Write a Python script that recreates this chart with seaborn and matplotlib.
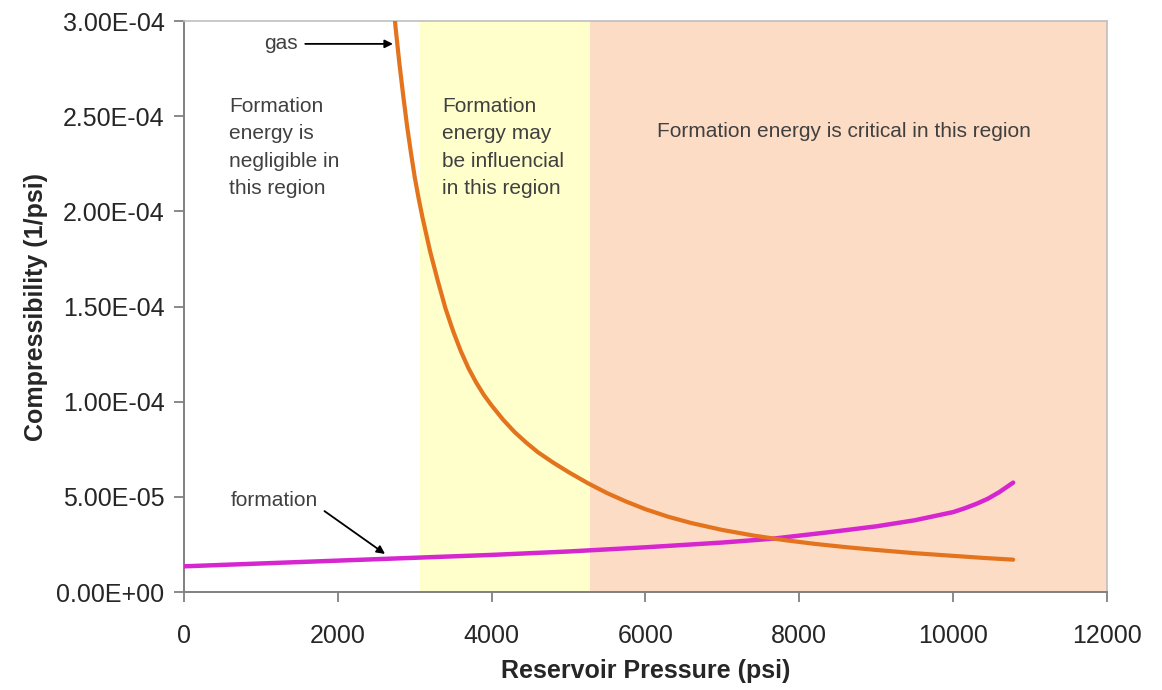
import matplotlib
matplotlib.use("Agg")
import matplotlib.pyplot as plt
import seaborn as sns

# gas compressibility (1/psi) vs reservoir pressure (psi)
gas_p = [2700, 2750, 2800, 2850, 2900, 2950, 3000, 3050, 3100, 3150, 3200, 3300,
         3400, 3500, 3600, 3700, 3800, 3900, 4000, 4150, 4300, 4450, 4600, 4800,
         5000, 5250, 5500, 5750, 6000, 6300, 6600, 7000, 7400, 7800, 8200, 8600,
         9000, 9500, 10000, 10400, 10780]
gas_c = [3.20e-4, 2.97e-4, 2.78e-4, 2.61e-4, 2.45e-4, 2.31e-4, 2.18e-4, 2.07e-4,
         1.97e-4, 1.88e-4, 1.79e-4, 1.635e-4, 1.49e-4, 1.37e-4, 1.265e-4, 1.175e-4,
         1.10e-4, 1.035e-4, 0.98e-4, 0.905e-4, 0.84e-4, 0.785e-4, 0.735e-4, 0.68e-4,
         0.63e-4, 0.572e-4, 0.52e-4, 0.475e-4, 0.435e-4, 0.395e-4, 0.362e-4, 0.326e-4,
         0.297e-4, 0.273e-4, 0.253e-4, 0.236e-4, 0.221e-4, 0.204e-4, 0.19e-4,
         0.179e-4, 0.17e-4]

# formation compressibility
form_p = [0, 1000, 2000, 3000, 4000, 5000, 6000, 7000, 7650, 8400, 9000, 9500,
          10000, 10150, 10300, 10450, 10600, 10780]
form_c = [0.135e-4, 0.15e-4, 0.165e-4, 0.18e-4, 0.195e-4, 0.213e-4, 0.235e-4,
          0.26e-4, 0.28e-4, 0.315e-4, 0.345e-4, 0.377e-4, 0.42e-4, 0.44e-4,
          0.463e-4, 0.49e-4, 0.525e-4, 0.575e-4]

# region limits (psi)
region_edges = [3070, 5280, 12000]
region_colors = ['#FFFFCC', '#FDDCC5']

y_ticks = [0, 0.5e-4, 1.0e-4, 1.5e-4, 2.0e-4, 2.5e-4, 3.0e-4]
y_labels = ['0.00E+00', '5.00E-05', '1.00E-04', '1.50E-04', '2.00E-04', '2.50E-04', '3.00E-04']
x_ticks = [0, 2000, 4000, 6000, 8000, 10000, 12000]

sns.set_theme(style='white')
plt.rcParams['font.family'] = ['Liberation Sans', 'DejaVu Sans']

fig = plt.figure(figsize=(11.62, 6.90), dpi=100)
ax = fig.add_axes([0.1583, 0.142, 0.7944, 0.8275])

ax.axvspan(region_edges[0], region_edges[1], color=region_colors[0], lw=0, zorder=0)
ax.axvspan(region_edges[1], region_edges[2], color=region_colors[1], lw=0, zorder=0)

sns.lineplot(x=form_p, y=form_c, ax=ax, color='#D626CF', lw=3.2, sort=False, zorder=3)
sns.lineplot(x=gas_p, y=gas_c, ax=ax, color='#E4731E', lw=3.0, sort=False, zorder=4)

ax.set_xlim(0, 12000)
ax.set_ylim(0, 3.0e-4)
ax.set_yticks(y_ticks)
ax.set_yticklabels(y_labels)
ax.set_xticks(x_ticks)
ax.set_xticklabels([str(t) for t in x_ticks])

ax.tick_params(axis='y', direction='out', length=7, width=1.3, color='#808080',
               labelsize=18, pad=7, left=True)
ax.tick_params(axis='x', direction='out', length=7, width=1.3, color='#808080',
               labelsize=18, pad=16, bottom=True)
for s in ['left', 'bottom']:
    ax.spines[s].set_color('#808080')
    ax.spines[s].set_linewidth(1.4)
for s in ['top', 'right']:
    ax.spines[s].set_color('#BFBFBF')
    ax.spines[s].set_linewidth(1.2)

ax.set_xlabel('Reservoir Pressure (psi)', fontsize=18, fontweight='bold', labelpad=8)
ax.set_ylabel('Compressibility (1/psi)', fontsize=18, fontweight='bold', labelpad=6)

txt = dict(fontsize=15, color='#404040', va='top', ha='left', linespacing=1.55)
ax.text(585, 2.60e-4, 'Formation\nenergy is\nnegligible in\nthis region', **txt)
ax.text(3355, 2.60e-4, 'Formation\nenergy may\nbe influencial\nin this region', **txt)
ax.text(6150, 2.47e-4, 'Formation energy is critical in this region', **txt)

arrow = dict(arrowstyle='-|>', color='black', lw=1.3, mutation_scale=12, shrinkA=3, shrinkB=0)
ax.annotate('gas', xy=(2717, 2.88e-4), xytext=(1480, 2.88e-4), fontsize=15,
            color='#404040', ha='right', va='center', arrowprops=arrow)
ax.annotate('formation', xy=(2614, 0.20e-4), xytext=(1740, 0.48e-4), fontsize=15,
            color='#404040', ha='right', va='center',
            arrowprops=dict(arrow, relpos=(1.0, 0.2)))

fig.savefig('out.png', dpi=100)
